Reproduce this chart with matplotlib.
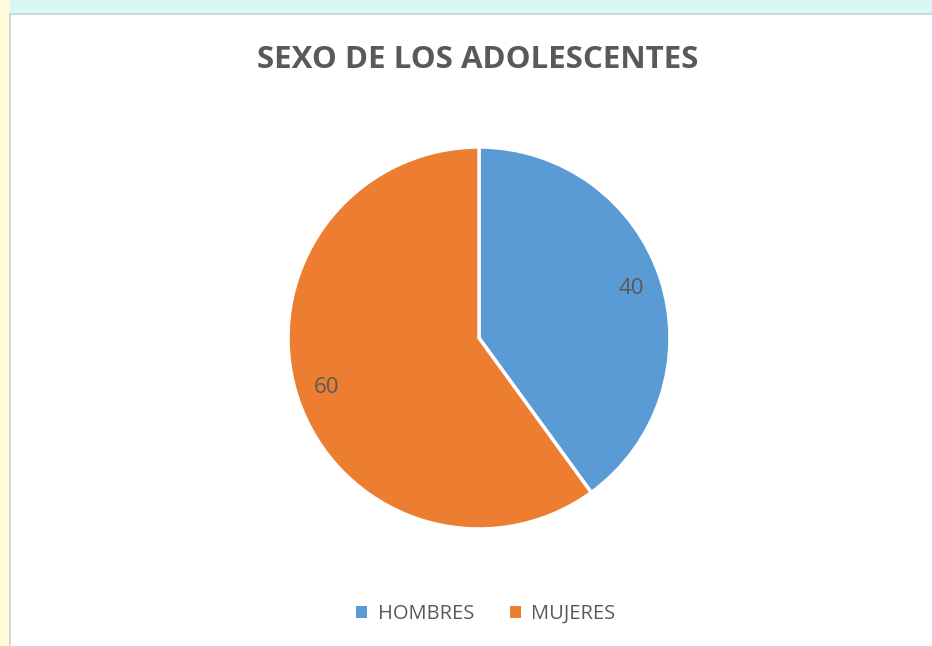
import matplotlib.pyplot as plt
import matplotlib.patches as mpatches

labels = ["HOMBRES", "MUJERES"]
values = [40, 60]
colors = ["#5B9BD5", "#ED7D31"]

plt.rcParams["font.family"] = ["Open Sans", "DejaVu Sans"]
text_color = "#595959"

W, H = 932, 646
fig = plt.figure(figsize=(W / 100, H / 100), dpi=100)
fig.patch.set_facecolor("#F6FBE8")

# background strips around the chart box
fig.patches.append(mpatches.Rectangle((0, 1 - 14 / H), 1, 14 / H, transform=fig.transFigure,
                                      facecolor="#D8F8F6", edgecolor="none", zorder=0))
fig.patches.append(mpatches.Rectangle((0, 0), 10 / W, 1, transform=fig.transFigure,
                                      facecolor="#FDFBDC", edgecolor="none", zorder=0))
# chart area box
fig.patches.append(mpatches.Rectangle((10 / W, -0.01), 1, 1 - 14 / H + 0.01, transform=fig.transFigure,
                                      facecolor="white", edgecolor="#D0D0D0", linewidth=1.2, zorder=1))

cx, cy, r = 479, 338, 191
ax = fig.add_axes([(cx - r) / W, (H - cy - r) / H, 2 * r / W, 2 * r / H])
ax.set_zorder(2)
wedges, texts = ax.pie(
    values,
    labels=[str(v) for v in values],
    colors=colors,
    startangle=90,
    counterclock=False,
    labeldistance=0.84,
    wedgeprops=dict(edgecolor="white", linewidth=2.5),
    textprops=dict(color=text_color, fontsize=16),
)
for t in texts:
    t.set_horizontalalignment("center")
    t.set_verticalalignment("center")
ax.set_xlim(-1, 1)
ax.set_ylim(-1, 1)
ax.set_aspect("equal")

fig.text(478 / W, 1 - 60 / H, "SEXO DE LOS ADOLESCENTES", ha="center", va="center",
         fontsize=22.5, fontweight="bold", color=text_color, zorder=3)

handles = [mpatches.Patch(facecolor=c, edgecolor="none") for c in colors]
leg = fig.legend(handles, labels, loc="center", bbox_to_anchor=(486 / W, 1 - 614 / H),
                 ncol=2, frameon=False, fontsize=14.5, handlelength=0.55, handleheight=0.55,
                 handletextpad=0.5, columnspacing=1.8)
for t in leg.get_texts():
    t.set_color(text_color)
leg.set_zorder(3)

fig.savefig("out.png", dpi=100, facecolor=fig.get_facecolor())
